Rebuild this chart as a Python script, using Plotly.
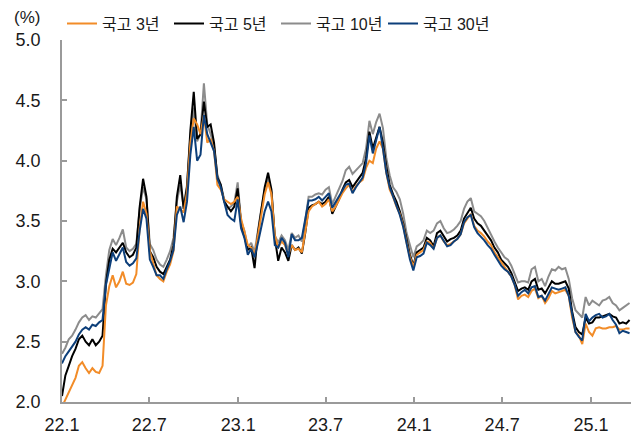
import pandas as pd
import plotly.graph_objects as go

# Weekly observations, KTB yields (%), from the first week of 2022
start_date = "2022-01-01"
n_weeks = 169

ktb_3y = [
    1.96, 2.02, 2.08, 2.14, 2.20, 2.30, 2.33, 2.28, 2.24, 2.28, 2.25, 2.24, 2.30,
    2.80, 2.96, 3.05, 2.95, 3.00, 3.08, 2.98, 2.97, 2.99, 3.06, 3.45, 3.66, 3.56, 3.25, 3.15, 3.05,
    3.02, 3.00, 3.08, 3.14, 3.25, 3.62, 3.60, 3.57, 3.74, 4.15, 4.35, 4.30, 4.22,
    4.38, 4.15, 4.18, 4.08, 3.80, 3.76, 3.68, 3.66, 3.64, 3.66, 3.70, 3.52, 3.40, 3.30, 3.28, 3.22,
    3.38, 3.55, 3.72, 3.82, 3.72, 3.38, 3.28, 3.33, 3.30, 3.22, 3.30, 3.26, 3.27, 3.24, 3.42,
    3.58, 3.62, 3.64, 3.66, 3.62, 3.64, 3.68, 3.58, 3.62, 3.68, 3.73, 3.77, 3.80, 3.74, 3.79, 3.82, 3.84,
    3.94, 4.00, 3.98, 4.10, 4.16, 4.10, 3.90, 3.76, 3.70, 3.62, 3.56, 3.46, 3.32, 3.20, 3.12,
    3.22, 3.24, 3.26, 3.33, 3.32, 3.27, 3.36, 3.38, 3.33, 3.30, 3.31, 3.33, 3.35, 3.39, 3.48, 3.52, 3.56,
    3.46, 3.42, 3.40, 3.37, 3.33, 3.30, 3.24, 3.20, 3.16, 3.12, 3.08, 3.04, 2.97, 2.85, 2.88, 2.89, 2.87,
    2.92, 2.94, 2.86, 2.88, 2.82, 2.86, 2.92, 2.90, 2.91, 2.92, 2.93, 2.88, 2.70, 2.58, 2.55, 2.48,
    2.65, 2.58, 2.55, 2.61, 2.62, 2.61, 2.61, 2.62, 2.62, 2.63, 2.60, 2.60, 2.61, 2.61,
]

ktb_5y = [
    2.05, 2.22, 2.30, 2.38, 2.44, 2.52, 2.55, 2.50, 2.47, 2.52, 2.47, 2.50, 2.55,
    2.98, 3.18, 3.27, 3.24, 3.28, 3.32, 3.24, 3.20, 3.22, 3.28, 3.62, 3.85, 3.70, 3.25, 3.20, 3.12,
    3.08, 3.06, 3.12, 3.18, 3.30, 3.70, 3.88, 3.60, 3.78, 4.25, 4.57, 4.18, 4.22,
    4.49, 4.28, 4.30, 4.15, 3.86, 3.80, 3.66, 3.62, 3.58, 3.62, 3.77, 3.48, 3.36, 3.26, 3.28, 3.11,
    3.40, 3.58, 3.78, 3.90, 3.76, 3.36, 3.17, 3.28, 3.24, 3.17, 3.30, 3.26, 3.28, 3.23, 3.40,
    3.61, 3.63, 3.64, 3.66, 3.64, 3.66, 3.70, 3.56, 3.62, 3.68, 3.76, 3.82, 3.84, 3.78, 3.82, 3.86, 3.90,
    4.02, 4.24, 4.10, 4.20, 4.28, 4.15, 3.95, 3.80, 3.72, 3.66, 3.58, 3.48, 3.34, 3.22, 3.13,
    3.24, 3.26, 3.28, 3.36, 3.34, 3.29, 3.40, 3.42, 3.37, 3.33, 3.35, 3.36, 3.38, 3.42, 3.52, 3.57, 3.61,
    3.52, 3.48, 3.46, 3.42, 3.38, 3.34, 3.28, 3.24, 3.18, 3.15, 3.12, 3.07, 3.00, 2.92, 2.94, 2.95, 2.93,
    3.00, 3.02, 2.93, 2.94, 2.90, 2.95, 3.00, 2.98, 2.98, 2.99, 3.00, 2.94, 2.75, 2.62, 2.58, 2.56,
    2.70, 2.65, 2.66, 2.70, 2.70, 2.71, 2.72, 2.73, 2.71, 2.70, 2.65, 2.66, 2.65, 2.68,
]

ktb_10y = [
    2.40, 2.45, 2.52, 2.55, 2.60, 2.66, 2.70, 2.72, 2.68, 2.71, 2.70, 2.74, 2.77,
    3.05, 3.26, 3.35, 3.30, 3.36, 3.43, 3.28, 3.25, 3.27, 3.31, 3.60, 3.78, 3.68, 3.31, 3.26, 3.18,
    3.14, 3.12, 3.18, 3.25, 3.36, 3.66, 3.80, 3.62, 3.80, 4.20, 4.44, 4.16, 4.22,
    4.64, 4.30, 4.22, 4.12, 3.88, 3.80, 3.68, 3.60, 3.62, 3.65, 3.82, 3.50, 3.42, 3.28, 3.32, 3.24,
    3.44, 3.60, 3.76, 3.86, 3.74, 3.38, 3.32, 3.38, 3.34, 3.26, 3.40, 3.36, 3.38, 3.33, 3.50,
    3.70, 3.70, 3.72, 3.73, 3.72, 3.76, 3.78, 3.64, 3.70, 3.76, 3.83, 3.92, 3.95, 3.89, 3.92, 3.95, 3.98,
    4.10, 4.33, 4.22, 4.32, 4.39, 4.27, 4.02, 3.88, 3.78, 3.74, 3.68, 3.56, 3.40, 3.30, 3.20,
    3.29, 3.31, 3.34, 3.42, 3.40, 3.42, 3.48, 3.50, 3.44, 3.40, 3.41, 3.43, 3.46, 3.50, 3.60, 3.66, 3.69,
    3.58, 3.56, 3.54, 3.50, 3.44, 3.38, 3.33, 3.28, 3.24, 3.20, 3.18, 3.13, 3.06, 2.99, 3.00, 3.00, 2.99,
    3.10, 3.12, 3.00, 3.02, 2.96, 3.04, 3.10, 3.09, 3.12, 3.10, 3.11, 3.02, 2.86, 2.76, 2.73, 2.70,
    2.87, 2.80, 2.84, 2.82, 2.80, 2.84, 2.85, 2.87, 2.82, 2.80, 2.76, 2.78, 2.80, 2.82,
]

ktb_30y = [
    2.32, 2.38, 2.42, 2.46, 2.50, 2.56, 2.60, 2.62, 2.60, 2.64, 2.63, 2.66, 2.68,
    2.97, 3.12, 3.24, 3.17, 3.22, 3.28, 3.16, 3.13, 3.15, 3.19, 3.42, 3.60, 3.52, 3.18, 3.12, 3.05,
    3.05, 3.02, 3.10, 3.17, 3.26, 3.55, 3.62, 3.49, 3.66, 4.05, 4.28, 4.00, 4.05,
    4.38, 4.22, 4.15, 4.08, 3.85, 3.78, 3.66, 3.55, 3.52, 3.50, 3.68, 3.44, 3.36, 3.22, 3.27, 3.20,
    3.32, 3.46, 3.58, 3.66, 3.58, 3.30, 3.28, 3.36, 3.32, 3.20, 3.39, 3.34, 3.34, 3.36, 3.51,
    3.67, 3.67, 3.68, 3.70, 3.67, 3.70, 3.73, 3.61, 3.66, 3.70, 3.75, 3.80, 3.81, 3.73, 3.78, 3.82, 3.86,
    3.98, 4.21, 4.06, 4.16, 4.28, 4.10, 3.90, 3.78, 3.70, 3.62, 3.55, 3.45, 3.31, 3.18, 3.09,
    3.20, 3.21, 3.23, 3.32, 3.30, 3.27, 3.36, 3.38, 3.34, 3.29, 3.30, 3.33, 3.35, 3.39, 3.49, 3.53, 3.55,
    3.45, 3.40, 3.37, 3.34, 3.30, 3.27, 3.22, 3.17, 3.13, 3.10, 3.08, 3.04, 2.97, 2.88, 2.91, 2.93, 2.90,
    2.95, 2.96, 2.87, 2.88, 2.84, 2.90, 2.95, 2.94, 2.93, 2.94, 2.95, 2.88, 2.72, 2.58, 2.54, 2.51,
    2.73, 2.67, 2.70, 2.72, 2.73, 2.70, 2.71, 2.73, 2.68, 2.64, 2.57, 2.59, 2.58, 2.57,
]

tick_dates = ["2022-01-01", "2022-07-01", "2023-01-01", "2023-07-01",
              "2024-01-01", "2024-07-01", "2025-01-01"]
tick_labels = ["22.1", "22.7", "23.1", "23.7", "24.1", "24.7", "25.1"]

dates = pd.date_range(start_date, periods=n_weeks, freq="7D")

FONT = "Liberation Sans, Arial, Noto Sans CJK KR, sans-serif"
AXIS_GRAY = "#9a9a9a"

# drawing order (bottom to top) with legend rank keeping 3y,5y,10y,30y order
series = [
    ("국고 10년", ktb_10y, "#8c8c8c", 3),
    ("국고 5년", ktb_5y, "#000000", 2),
    ("국고 3년", ktb_3y, "#f28c28", 1),
    ("국고 30년", ktb_30y, "#0d3f7a", 4),
]

fig = go.Figure()
for name, vals, color, rank in series:
    fig.add_trace(go.Scatter(
        x=dates, y=vals, name=name, mode="lines",
        line=dict(color=color, width=2),
        legendrank=rank,
    ))

fig.update_layout(
    width=640, height=437,
    margin=dict(l=62, r=9, t=40, b=35, autoexpand=False),
    paper_bgcolor="white", plot_bgcolor="white",
    font=dict(family=FONT, size=18, color="#1a1a1a"),
    showlegend=True,
    legend=dict(
        orientation="h", x=0.0, xanchor="left", y=1.045, yanchor="middle",
        font=dict(size=16, color="#1a1a1a"),
        bgcolor="rgba(0,0,0,0)", borderwidth=0,
        entrywidth=62, entrywidthmode="pixels",
        itemwidth=30, tracegroupgap=0,
    ),
    xaxis=dict(
        type="date",
        range=["2022-01-01", "2025-03-25"],
        tickvals=tick_dates, ticktext=tick_labels,
        ticks="inside", ticklen=5, tickcolor=AXIS_GRAY, tickwidth=1.5,
        showline=True, linecolor=AXIS_GRAY, linewidth=1.5,
        showgrid=False, zeroline=False,
        tickfont=dict(size=18),
        ticklabelstandoff=6,
    ),
    yaxis=dict(
        range=[2.0, 5.0],
        tickvals=[2.0, 2.5, 3.0, 3.5, 4.0, 4.5, 5.0],
        tickformat=".1f",
        ticks="inside", ticklen=5, tickcolor=AXIS_GRAY, tickwidth=1.5,
        showline=True, linecolor=AXIS_GRAY, linewidth=1.5,
        showgrid=False, zeroline=False,
        tickfont=dict(size=18),
        ticklabelstandoff=16,
    ),
    annotations=[dict(
        text="(%)", xref="paper", yref="paper",
        x=-0.062, y=1.063, xanchor="center", yanchor="middle",
        showarrow=False, font=dict(size=17, color="#1a1a1a"),
    )],
)

fig.write_html("out.html")
